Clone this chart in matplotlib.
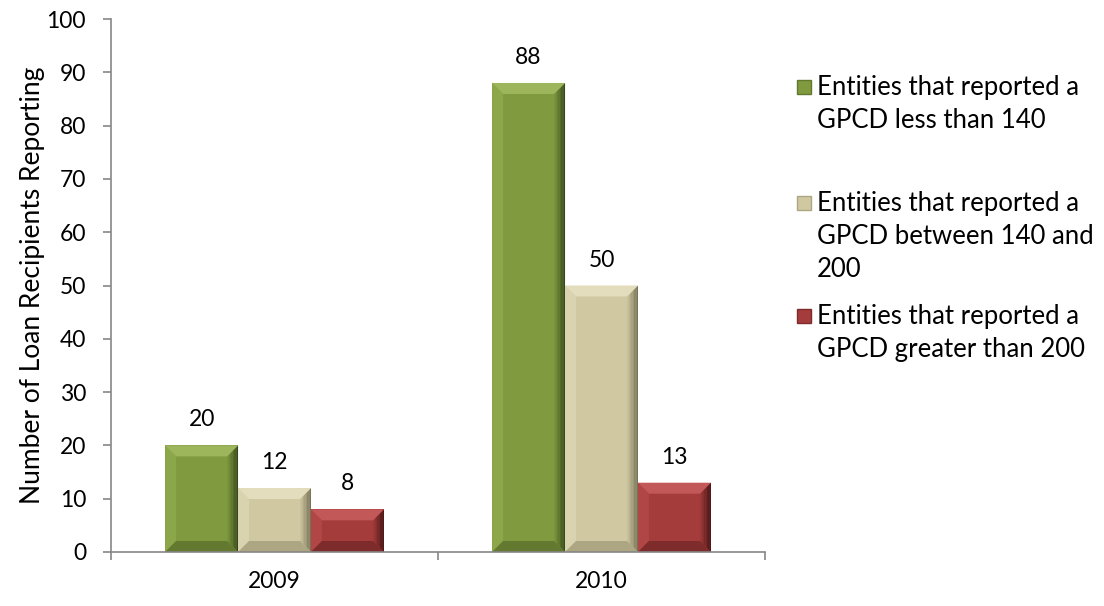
import matplotlib
matplotlib.use('Agg')
import matplotlib.pyplot as plt
from matplotlib.patches import Polygon, Rectangle
from matplotlib.colors import to_rgb
import numpy as np

plt.rcParams['font.family'] = ['Lato', 'DejaVu Sans']

# data
years = ['2009', '2010']
series_names = ['Entities that reported a\nGPCD less than 140',
                'Entities that reported a\nGPCD between 140 and\n200',
                'Entities that reported a\nGPCD greater than 200']
below_140 = [20, 88]
between_140_200 = [12, 50]
above_200 = [8, 13]
series = [below_140, between_140_200, above_200]

# face, top, left, right edge (dark), bottom
palettes = [
    ('#7F9A3F', '#9DB65C', '#8CA64A', '#33421A', '#62792F'),
    ('#CFC8A1', '#E3DDBD', '#D9D3AF', '#6E6A50', '#ADA683'),
    ('#A53C3C', '#C35858', '#B04646', '#3E1212', '#7E2B2B'),
]

fig = plt.figure(figsize=(11.04, 6.06), dpi=100)
ax = fig.add_axes([111/1104, 1 - 552/606, 654/1104, 533/606])
ax.set_xlim(-0.5, 1.5)
ax.set_ylim(0, 100)

x = np.arange(len(years))
w = 0.223

# bevel size in data units (~11 px)
bx = 11 * 2.0 / 654
by = 11 * 100.0 / 533

def mix(c1, c2, t):
    a, b = np.array(to_rgb(c1)), np.array(to_rgb(c2))
    return tuple(a + (b - a) * t)

def bevel_bar(xc, h, cols):
    face, top, left, right, bottom = cols
    x0, x1 = xc - w / 2, xc + w / 2
    ax.add_patch(Rectangle((x0, 0), w, h, facecolor=face, edgecolor='none', zorder=2))
    b_y = min(by, h / 2)
    b_x = min(bx, w / 2)
    ax.add_patch(Polygon([(x0, 0), (x0, h), (x0 + b_x, h - b_y), (x0 + b_x, b_y)],
                         facecolor=left, edgecolor='none', zorder=3))
    # right side: gradient from face towards dark edge
    n = 8
    for k in range(n):
        t0, t1 = k / n, (k + 1) / n
        xa = x1 - b_x + b_x * t0
        xb = x1 - b_x + b_x * t1
        ya, yb = b_y * (1 - t0), b_y * (1 - t1)
        ax.add_patch(Polygon([(xa, ya), (xa, h - ya), (xb, h - yb), (xb, yb)],
                             facecolor=mix(face, right, (t0 + t1) / 2),
                             edgecolor='none', zorder=3))
    ax.add_patch(Polygon([(x0, 0), (x1, 0), (x1 - b_x, b_y), (x0 + b_x, b_y)],
                         facecolor=bottom, edgecolor='none', zorder=3))
    ax.add_patch(Polygon([(x0, h), (x1, h), (x1 - b_x, h - b_y), (x0 + b_x, h - b_y)],
                         facecolor=top, edgecolor='none', zorder=4))
    ax.text(xc, h + 2.8, str(h), ha='center', va='bottom', fontsize=16.5, color='black')

for i, vals in enumerate(series):
    for j, v in enumerate(vals):
        bevel_bar(x[j] + (i - 1) * w, v, palettes[i])

# axes styling
axis_col = '#868686'
for s in ['top', 'right']:
    ax.spines[s].set_visible(False)
for s in ['left', 'bottom']:
    ax.spines[s].set_color(axis_col)
    ax.spines[s].set_linewidth(1.2)
    ax.spines[s].set_zorder(5)

ax.set_yticks(np.arange(0, 101, 10))
ax.tick_params(axis='y', direction='out', length=6, width=1.2, color=axis_col,
               labelsize=16.5, pad=12)
ax.set_xticks([-0.5, 0.5, 1.5])
ax.set_xticklabels([])
ax.set_xticks(x, minor=True)
ax.set_xticklabels(years, minor=True)
ax.tick_params(axis='x', which='major', direction='out', length=6, width=1.2, color=axis_col)
ax.tick_params(axis='x', which='minor', length=0, labelsize=16.5, pad=14)
ax.set_ylabel('Number of Loan Recipients Reporting', fontsize=19, labelpad=1)

# legend drawn by hand so the marker sits on the first line
leg_y = [87, 203, 316]
for i, name in enumerate(series_names):
    face, top, left, right, bottom = palettes[i]
    yy = 1 - leg_y[i] / 606
    fig.patches.append(Rectangle((797/1104, yy - 7/606), 14/1104, 14/606,
                                 transform=fig.transFigure, facecolor=face,
                                 edgecolor=bottom, linewidth=1))
    fig.text(817/1104, yy + 12/606, name, fontsize=18.5, ha='left', va='top',
             linespacing=1.4)

fig.savefig('out.png', dpi=100)
